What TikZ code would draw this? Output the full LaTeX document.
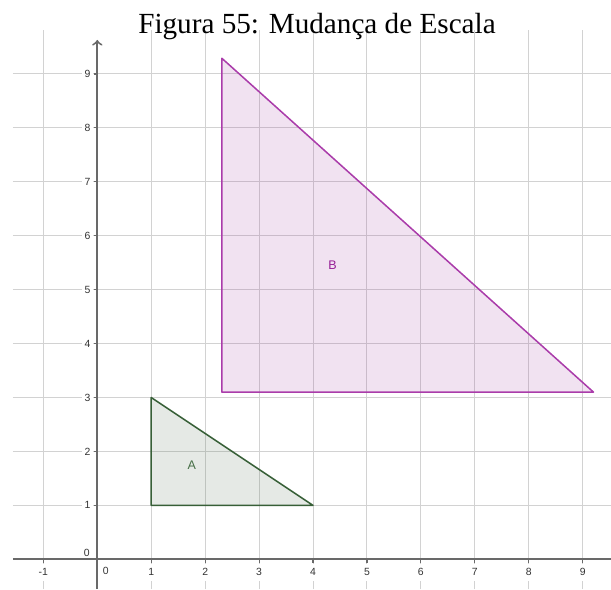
\documentclass[tikz,border=0pt]{standalone}
\usepackage{fontspec}
\setmainfont{Liberation Serif}
\newfontfamily\axfont{Liberation Sans}
\usetikzlibrary{arrows}
\definecolor{gridc}{RGB}{210,210,210}
\definecolor{axisc}{RGB}{105,105,105}
\definecolor{triA}{RGB}{55,95,55}
\definecolor{fillA}{RGB}{80,110,80}
\definecolor{triB}{RGB}{170,60,170}
\definecolor{fillB}{RGB}{160,60,160}
\definecolor{lblA}{RGB}{70,110,70}
\definecolor{lblB}{RGB}{150,30,150}

\begin{document}
\begin{tikzpicture}[>=to,
      gridln/.style={gridc,line width=0.55pt},
      axisln/.style={axisc,line width=1pt},
      ticklbl/.style={fill=white,inner xsep=1.2pt,inner ysep=2.5pt,text=black!80,
        font=\axfont\fontsize{5.5}{6}\selectfont},
      trilbl/.style={font=\axfont\fontsize{6.6}{7}\selectfont}]
    \useasboundingbox (-1.804,-0.551) rectangle (9.525,10.371);
    % --- grid ---
    \foreach \x in {-1,1,2,...,9} \draw[gridln] (\x,-0.551) -- (\x,9.815);
    \foreach \y in {1,...,9} \draw[gridln] (-1.563,\y) -- (9.525,\y);
    % --- tick labels ---
    \foreach \x in {-1,1,2,...,9} \node[ticklbl] (xl\x) at (\x,-0.24) {\x};
    \foreach \y in {1,...,9} \node[ticklbl] (yl\y) at (-0.18,\y) {\y};
    \node[ticklbl,fill=none] (x0) at (0.156,-0.22) {0};
    \node[ticklbl,fill=none] (y0) at (-0.197,0.111) {0};
    % --- triangle A ---
    \coordinate (A1) at (1,1);
    \coordinate (A2) at (4,1);
    \coordinate (A3) at (1,3);
    \fill[fillA,fill opacity=0.15] (A1) -- (A2) -- (A3) -- cycle;
    \draw[triA,line width=0.8pt,line join=round] (A1) -- (A2) -- (A3) -- cycle;
    \node[trilbl,text=lblA] (lA) at (1.75,1.75) {A};
    % --- triangle B ---
    \coordinate (B1) at (2.31,3.10);
    \coordinate (B2) at (9.20,3.10);
    \coordinate (B3) at (2.31,9.29);
    \fill[fillB,fill opacity=0.15] (B1) -- (B2) -- (B3) -- cycle;
    \draw[triB,line width=0.8pt,line join=round] (B1) -- (B2) -- (B3) -- cycle;
    \node[trilbl,text=lblB] (lB) at (4.36,5.46) {B};
    % --- axes ---
    \coordinate (xa) at (-1.563,0); \coordinate (xb) at (9.525,0);
    \coordinate (ya) at (0,-0.551); \coordinate (yb) at (0,9.63);
    \draw[axisln] (xa) -- (xb);
    \draw[axisln,->] (ya) -- (yb);
    \foreach \x in {-1,1,2,...,9} \draw[axisc,line width=0.6pt] (\x,0) -- (\x,-0.07);
    \foreach \y in {1,...,9} \draw[axisc,line width=0.6pt] (0,\y) -- (-0.07,\y);
    % --- title ---
    \node[anchor=base,font=\fontsize{15.4}{18}\selectfont] (title) at (4.074,9.75) {Figura 55: Mudança de Escala};
  \end{tikzpicture}
\end{document}
